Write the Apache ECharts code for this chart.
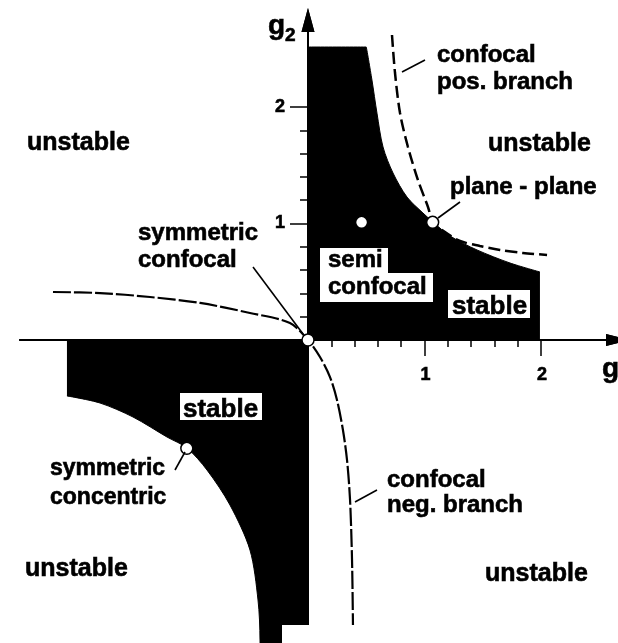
<!DOCTYPE html>
<html>
<head>
<meta charset="utf-8">
<script src="https://cdn.jsdelivr.net/npm/echarts@6/dist/echarts.min.js"></script>
<style>
  html, body { margin: 0; padding: 0; background: #fff; }
  #chart { width: 618px; height: 643px; }
</style>
</head>
<body>
<div id="chart"></div>
<script>
// Stability diagram of a two-mirror optical resonator in the (g1, g2) plane.

// Tick positions on both axes
const g1MinorTicks = [0.2, 0.4, 0.6, 0.8, 1.0, 1.2, 1.4, 1.6, 1.8, 2.0];
const g1MajorTicks = [1, 2];
const g2MinorTicks = [0.2, 0.4, 0.6, 0.8, 1.0, 1.2, 1.4, 1.6, 1.8, 2.0];
const g2MajorTicks = [1, 2];
const g1TickLabels = ['1', '2'];
const g2TickLabels = ['1', '2'];

// Boundary of the stable zone in the first quadrant (flat top, then hyperbola)
const stableZoneUpper = [
  [0, 2.515], [0.45, 2.515], [0.5, 2.515], [0.506, 2.515],
  [0.549, 2.232], [0.592, 1.948], [0.644, 1.657], [0.730, 1.433],
  [0.850, 1.227], [0.987, 1.090], [1.073, 1.013], [1.219, 0.893],
  [1.451, 0.773], [1.734, 0.661], [1.991, 0.584]
];

// Boundary of the stable zone in the third quadrant
const stableZoneLower = [
  [-2.069, -0.48], [-1.785, -0.541], [-1.502, -0.661], [-1.210, -0.833],
  [-1.039, -0.927], [-0.867, -1.116], [-0.670, -1.416], [-0.498, -1.803],
  [-0.429, -2.232], [-0.412, -2.575], [-0.412, -2.601], [0, -2.601]
];

// Confocal resonators, positive branch (dashed)
const confocalPosBranch = [
  [0.721, 2.618], [0.747, 2.292], [0.790, 1.948], [0.858, 1.657],
  [0.944, 1.373], [1.030, 1.142], [1.073, 1.013], [1.176, 0.927],
  [1.305, 0.850], [1.476, 0.807], [1.648, 0.773], [1.845, 0.747],
  [2.052, 0.730]
];

// Confocal resonators, negative branch
const confocalNegBranch = [
  [-2.189, 0.412], [-1.785, 0.403], [-1.356, 0.369], [-0.927, 0.318],
  [-0.498, 0.232], [-0.155, 0.146], [0, 0], [0.103, -0.146],
  [0.189, -0.318], [0.249, -0.515], [0.300, -0.773], [0.335, -1.030],
  [0.361, -1.373], [0.378, -1.888], [0.386, -2.446]
];

// Special resonator configurations
const resonatorNames = ['symmetric confocal', 'plane - plane', 'semi confocal', 'symmetric concentric'];
const resonatorG1 = [0, 1.07, 0.46, -1.04];
const resonatorG2 = [0, 1.01, 1.01, -0.93];

const FONT = '"Liberation Sans", Arial, Helvetica, sans-serif';
const X_RANGE = [-2.472, 2.661];
const Y_RANGE = [-2.601, 2.747];

const axisLineStyle = { color: '#000', width: 2 };

function xAxisDef(ticks, tickLen) {
  return {
    type: 'value', min: X_RANGE[0], max: X_RANGE[1], position: 'bottom',
    axisLine: {
      show: true, onZero: true, onZeroAxisIndex: 0,
      symbol: ['none', 'triangle'], symbolSize: [12, 24], lineStyle: axisLineStyle
    },
    axisTick: { show: true, customValues: ticks, length: tickLen, lineStyle: { color: '#000', width: 1.5 } },
    axisLabel: { show: false },
    splitLine: { show: false }, minorTick: { show: false }
  };
}

function yAxisDef(ticks, tickLen) {
  return {
    type: 'value', min: Y_RANGE[0], max: Y_RANGE[1], position: 'left',
    axisLine: {
      show: true, onZero: true, onZeroAxisIndex: 0,
      symbol: ['none', 'triangle'], symbolSize: [13, 24], lineStyle: axisLineStyle
    },
    axisTick: { show: true, customValues: ticks, length: tickLen, lineStyle: { color: '#000', width: 1.5 } },
    axisLabel: { show: false },
    splitLine: { show: false }, minorTick: { show: false }
  };
}

// Heavy sans-serif label; a thin outline in the text colour thickens the strokes
function label(text, x, y, size, align) {
  return {
    type: 'text', z: 100,
    style: {
      text: text, x: x, y: y, fill: '#000', stroke: '#000', lineWidth: 0.6,
      font: 'bold ' + size + 'px ' + FONT, align: align || 'left', verticalAlign: 'middle'
    }
  };
}
function box(x, y, w, h) {
  return { type: 'rect', z: 90, shape: { x: x, y: y, width: w, height: h }, style: { fill: '#fff' } };
}
function leader(x1, y1, x2, y2) {
  return { type: 'line', z: 95, shape: { x1: x1, y1: y1, x2: x2, y2: y2 }, style: { stroke: '#000', lineWidth: 1.6 } };
}

const chart = echarts.init(document.getElementById('chart'), null, { renderer: 'canvas' });

chart.setOption({
  animation: false,
  backgroundColor: '#fff',
  grid: { left: 20, right: 0, top: 20, bottom: 0, containLabel: false, outerBoundsMode: 'none' },
  xAxis: [xAxisDef(g1MinorTicks, 7), xAxisDef(g1MajorTicks, 16)],
  yAxis: [yAxisDef(g2MinorTicks, 8), yAxisDef(g2MajorTicks, 18)],
  series: [
    {
      name: 'stable upper', type: 'line', data: stableZoneUpper, smooth: 0.3,
      showSymbol: false, silent: true, z: 1,
      lineStyle: { color: '#000', width: 1 }, areaStyle: { color: '#000', opacity: 1 }
    },
    {
      name: 'stable lower', type: 'line', data: stableZoneLower, smooth: 0.3,
      showSymbol: false, silent: true, z: 1,
      lineStyle: { color: '#000', width: 1 }, areaStyle: { color: '#000', opacity: 1 }
    },
    {
      name: 'confocal pos. branch', type: 'line', data: confocalPosBranch, smooth: 0.3,
      showSymbol: false, silent: true, z: 3,
      lineStyle: { color: '#000', width: 2.5, type: [12, 5] }
    },
    {
      name: 'confocal neg. branch', type: 'line', data: confocalNegBranch, smooth: 0.3,
      showSymbol: false, silent: true, z: 3,
      lineStyle: { color: '#000', width: 2.2, type: [18, 3] }
    },
    {
      name: 'resonators', type: 'scatter', z: 5, silent: true,
      data: resonatorNames.map((n, i) => ({ name: n, value: [resonatorG1[i], resonatorG2[i]] })),
      symbolSize: 12,
      itemStyle: { color: '#fff', borderColor: '#000', borderWidth: 1.5, opacity: 1 }
    }
  ]
});

// Tick labels placed at the axis positions of their values
const toPx = (v) => chart.convertToPixel({ xAxisIndex: 0, yAxisIndex: 0 }, v);
const origin = toPx([0, 0]);
const tickLabelGraphics = [];
g1MajorTicks.forEach((v, i) => {
  const p = toPx([v, 0]);
  tickLabelGraphics.push(label(g1TickLabels[i], p[0] + 1, origin[1] + 35, 18, 'center'));
});
g2MajorTicks.forEach((v, i) => {
  const p = toPx([0, v]);
  tickLabelGraphics.push(label(g2TickLabels[i], origin[0] - 23, p[1], 18, 'right'));
});

chart.setOption({
  graphic: [
    // white boxes behind labels sitting on the black zones
    box(320, 248, 68, 26), box(320, 273, 113, 29),
    box(448, 290, 82, 28),
    box(180, 393, 82, 27),
    // strip along the bottom edge
    { type: 'rect', z: 120, shape: { x: 282, y: 625, width: 336, height: 18 }, style: { fill: '#fff' } },

    // leader lines
    leader(425, 60, 402, 72),
    leader(460, 202, 438, 218),
    leader(253, 267, 303, 334),
    leader(175, 470, 185, 452),
    leader(377, 490, 355, 502),

    // axis names
    label('g', 268, 26, 28), label('2', 285, 36, 19),
    label('g', 602, 369, 28),

    // region and configuration labels
    label('unstable', 27, 143, 25),
    label('unstable', 488, 144, 25),
    label('unstable', 25, 569, 25),
    label('unstable', 485, 574, 25),
    label('confocal', 437, 55.6, 24),
    label('pos. branch', 437, 82.6, 24),
    label('plane - plane', 450, 187.6, 24),
    label('symmetric', 138, 233.6, 24),
    label('confocal', 138, 260.6, 24),
    label('semi', 328, 260.6, 24),
    label('confocal', 328, 287.6, 24),
    label('stable', 452, 307, 26),
    label('stable', 183, 410, 26),
    label('symmetric', 50, 469, 23),
    label('concentric', 50, 498, 23),
    label('confocal', 387, 480.6, 24),
    label('neg. branch', 387, 505.6, 24)
  ].concat(tickLabelGraphics)
});
</script>
</body>
</html>
